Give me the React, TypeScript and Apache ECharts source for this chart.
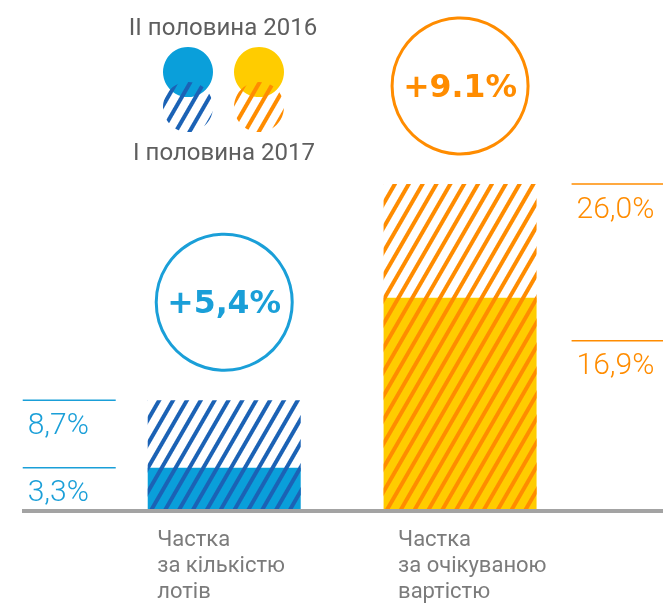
import React, { useEffect, useRef } from 'react';
import * as echarts from 'echarts';

// ---- data ----
const categories = ['Частка\nза кількістю\nлотів', 'Частка\nза очікуваною\nвартістю'];
const seriesNames = ['II половина 2016', 'I половина 2017'];
const h2_2016 = [3.3, 16.9];
const h1_2017 = [8.7, 26.0];
const growthLabels = ['+5,4%', '+9.1%'];

// ---- styles ----
const BLUE = '#0a9fda';
const BLUE_TEXT = '#1a9fd8';
const BLUE_HATCH = '#1b62b5';
const YELLOW = '#ffcc00';
const ORANGE = '#ff8c00';
const LEGEND_GRAY = '#5e5e5e';
const CAT_GRAY = '#7b7b7b';
const solidColors = [BLUE, YELLOW];
const hatchColors = [BLUE_HATCH, ORANGE];
const accent = [BLUE_TEXT, ORANGE];
const LABEL_NUDGE = [0, 0, 0, 43]; // pixel nudge of the value labels as drawn in the original
const FONT = 'Roboto, "Noto Sans", sans-serif';

const hatch = (color: string) => ({
  symbol: 'rect',
  symbolSize: 1,
  dashArrayX: [1, 0],
  dashArrayY: [4, 8],
  rotation: -Math.PI / 3,
  color,
  backgroundColor: 'rgba(0,0,0,0)',
});

const fmt = (v: number) => v.toFixed(1).replace('.', ',') + '%';

export default function App() {
  const ref = useRef<HTMLDivElement>(null);
  useEffect(() => {
    const chart = echarts.init(ref.current!, null, { renderer: 'svg' });

    const labelData: any[] = [];
    categories.forEach((_, i) => {
      labelData.push([i, h1_2017[i]]);
      labelData.push([i, h2_2016[i]]);
    });

    const legendPie = (center: number[], idx: number, hatched: boolean) => ({
      type: 'pie',
      silent: true,
      center,
      radius: 25,
      label: { show: false },
      labelLine: { show: false },
      emphasis: { disabled: true },
      data: [
        {
          value: 1,
          name: seriesNames[hatched ? 1 : 0],
          itemStyle: hatched
            ? { color: 'rgba(0,0,0,0)', decal: hatch(hatchColors[idx]) }
            : { color: solidColors[idx] },
        },
      ],
    });

    const option: any = {
      animation: false,
      grid: { left: 106.3, right: 85, top: 9, bottom: 103 },
      xAxis: {
        type: 'category',
        data: categories,
        axisLine: { show: false },
        axisTick: { show: false },
        axisLabel: {
          margin: 16,
          align: 'center',
          formatter: (v: string, i: number) =>
            v.split('\n').map((l) => `{${i === 0 ? 'a' : 'b'}|${l}}`).join('\n'),
          rich: {
            a: { width: 134, align: 'left', fontSize: 22, lineHeight: 26, color: CAT_GRAY, fontFamily: FONT },
            b: { width: 124, align: 'left', fontSize: 22, lineHeight: 26, color: CAT_GRAY, fontFamily: FONT },
          },
        },
      },
      yAxis: { type: 'value', min: 0, max: 40, show: false },
      graphic: [
        {
          type: 'text',
          style: { text: seriesNames[0], x: 223, y: 27, align: 'center', verticalAlign: 'middle', fontSize: 24, fontFamily: FONT, fill: LEGEND_GRAY },
        },
        {
          type: 'text',
          style: { text: seriesNames[1], x: 224, y: 152, align: 'center', verticalAlign: 'middle', fontSize: 24, fontFamily: FONT, fill: LEGEND_GRAY },
        },
      ],
      series: [
        {
          name: seriesNames[0],
          type: 'bar',
          barWidth: 153,
          z: 2,
          silent: true,
          data: h2_2016.map((v, i) => ({ value: v, itemStyle: { color: solidColors[i] } })),
        },
        {
          name: seriesNames[1],
          type: 'bar',
          barWidth: 153,
          barGap: '-100%',
          z: 3,
          silent: true,
          data: h1_2017.map((v, i) => ({
            value: v,
            itemStyle: { color: 'rgba(0,0,0,0)', decal: hatch(hatchColors[i]) },
          })),
        },
        {
          type: 'custom',
          name: 'baseline',
          silent: true,
          z: 4,
          data: [[0, 0]],
          renderItem: (params: any, api: any) => {
            const y = api.coord([0, 0])[1] + 2;
            return {
              type: 'line',
              shape: { x1: 22, y1: y, x2: api.getWidth(), y2: y },
              style: { stroke: '#a3a3a3', lineWidth: 4 },
            };
          },
        },
        {
          type: 'custom',
          name: 'values',
          silent: true,
          z: 5,
          data: labelData,
          renderItem: (params: any, api: any) => {
            const ci = api.value(0);
            const v = api.value(1);
            const [cx, y0] = api.coord([ci, v]);
            const y = y0 + LABEL_NUDGE[params.dataIndex];
            const half = 76.5;
            let x1: number, x2: number;
            if (ci === 0) {
              x1 = cx - half - 125;
              x2 = cx - half - 32;
            } else {
              x1 = cx + half + 35;
              x2 = api.getWidth();
            }
            const color = accent[ci];
            return {
              type: 'group',
              children: [
                { type: 'line', shape: { x1, y1: y, x2, y2: y }, style: { stroke: color, lineWidth: 1.5 } },
                {
                  type: 'text',
                  style: {
                    text: fmt(v),
                    x: x1 + 5,
                    y: y + 23,
                    align: 'left',
                    verticalAlign: 'middle',
                    fontSize: 30,
                    fontWeight: 300,
                    fontFamily: FONT,
                    fill: color,
                  },
                },
              ],
            };
          },
        },
        {
          type: 'custom',
          name: 'growth',
          silent: true,
          z: 5,
          data: h1_2017.map((v, i) => [i, v]),
          renderItem: (params: any, api: any) => {
            const ci = api.value(0);
            const [cx, yt] = api.coord([ci, api.value(1)]);
            const cy = yt - 98;
            const color = accent[ci];
            return {
              type: 'group',
              children: [
                { type: 'circle', shape: { cx, cy, r: 68 }, style: { fill: 'none', stroke: color, lineWidth: 3 } },
                {
                  type: 'text',
                  style: {
                    text: growthLabels[ci],
                    x: cx,
                    y: cy,
                    align: 'center',
                    verticalAlign: 'middle',
                    fontSize: 31.5,
                    fontWeight: 'bold',
                    fontFamily: '"DejaVu Sans", Roboto, sans-serif',
                    fill: color,
                  },
                },
              ],
            };
          },
        },
        legendPie([188, 72], 0, false),
        legendPie([259, 72], 1, false),
        legendPie([188, 107], 0, true),
        legendPie([259, 107], 1, true),
      ],
    };
    chart.setOption(option);
    return () => chart.dispose();
  }, []);
  return <div ref={ref} style={{ position: 'fixed', left: 0, top: 0, width: 663, height: 612 }} />;
}
